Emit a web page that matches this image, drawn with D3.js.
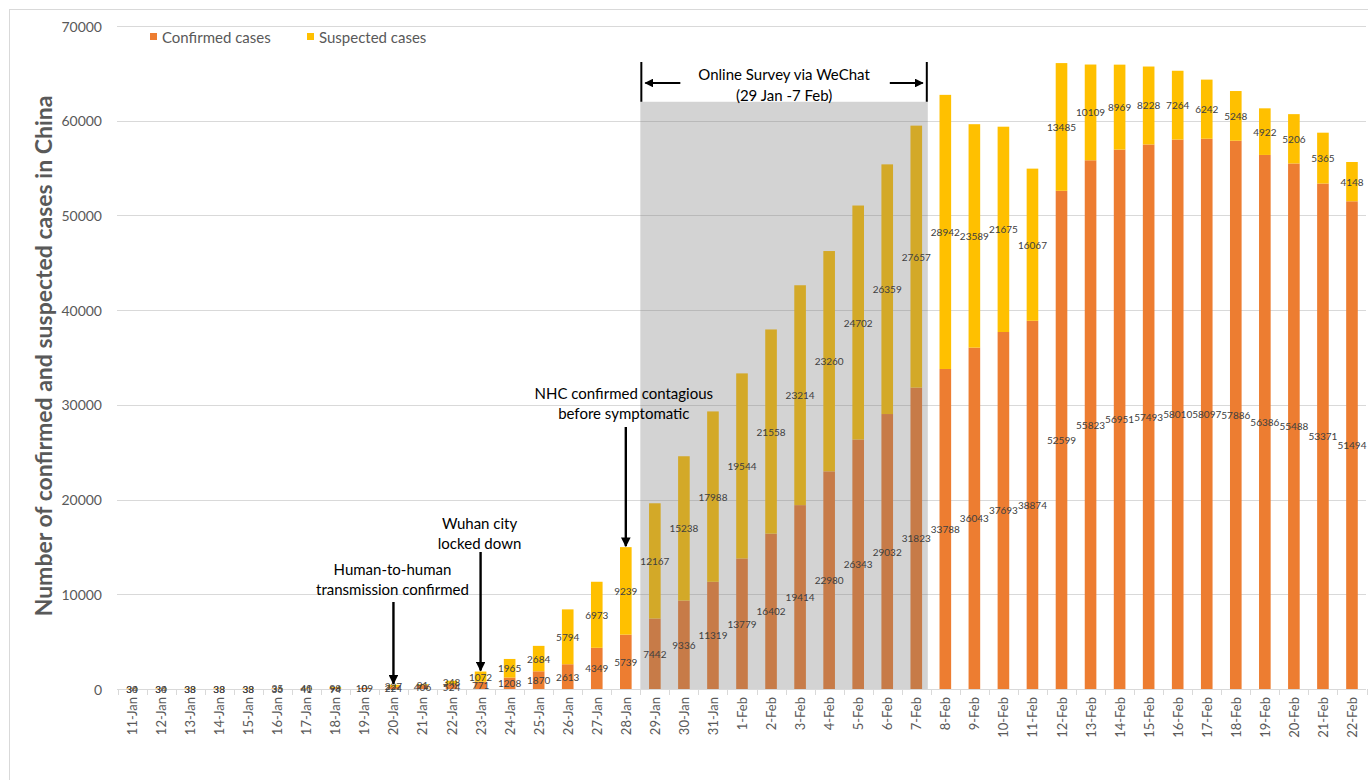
<!DOCTYPE html>
<html>
<head>
<meta charset="utf-8">
<script src="https://cdn.jsdelivr.net/npm/d3@7"></script>
<style>
    body { margin: 0; background: #fff; }
    text { font-family: Lato, 'Open Sans', sans-serif; }
</style>
</head>
<body>
<svg id="chart" width="1368" height="780"></svg>
<script>
// daily counts
const dates = [
    '11-Jan', '12-Jan', '13-Jan', '14-Jan', '15-Jan', '16-Jan', '17-Jan', '18-Jan', '19-Jan', '20-Jan',
    '21-Jan', '22-Jan', '23-Jan', '24-Jan', '25-Jan', '26-Jan', '27-Jan', '28-Jan', '29-Jan', '30-Jan',
    '31-Jan', '1-Feb', '2-Feb', '3-Feb', '4-Feb', '5-Feb', '6-Feb', '7-Feb', '8-Feb', '9-Feb',
    '10-Feb', '11-Feb', '12-Feb', '13-Feb', '14-Feb', '15-Feb', '16-Feb', '17-Feb', '18-Feb', '19-Feb',
    '20-Feb', '21-Feb', '22-Feb'
]
const confirmed = [
    34, 34, 33, 33, 33, 36, 41, 94, 109, 224,
    406, 524, 771, 1208, 1870, 2613, 4349, 5739, 7442, 9336,
    11319, 13779, 16402, 19414, 22980, 26343, 29032, 31823, 33788, 36043,
    37693, 38874, 52599, 55823, 56951, 57493, 58010, 58097, 57886, 56386,
    55488, 53371, 51494
]
const suspected = [
    30, 30, 38, 38, 38, 35, 40, 98, 0, 227,
    91, 348, 1072, 1965, 2684, 5794, 6973, 9239, 12167, 15238,
    17988, 19544, 21558, 23214, 23260, 24702, 26359, 27657, 28942, 23589,
    21675, 16067, 13485, 10109, 8969, 8228, 7264, 6242, 5248, 4922,
    5206, 5365, 4148
]
const yTicks = [0, 10000, 20000, 30000, 40000, 50000, 60000, 70000]
const seriesNames = ['Confirmed cases', 'Suspected cases']
const surveyFrom = '29-Jan'
const surveyTo = '7-Feb'
const surveyTop = 62000
const surveyText = ['Online Survey via WeChat', '(29 Jan -7 Feb)']
const events = [
    { date: '20-Jan', lines: ['Human-to-human', 'transmission confirmed'] },
    { date: '23-Jan', lines: ['Wuhan city', 'locked down'] },
    { date: '28-Jan', lines: ['NHC confirmed contagious', 'before symptomatic'] }
]

const colors = { confirmed: '#ED7D31', suspected: '#FFC000' }
const textGrey = '#595959'
const svg = d3.select('#chart')

const x = d3.scaleBand().domain(dates).range([117.5, 1366.5]).paddingInner(0.6).paddingOuter(0.3)
const y = d3.scaleLinear().domain([0, 70000]).range([689, 26])

// chart frame (only top and left edges fall inside the window)
svg.append('rect')
    .attr('x', 9.5).attr('y', 9.5).attr('width', 1400).attr('height', 800)
    .attr('fill', 'none').attr('stroke', '#d9d9d9')

// gridlines + y labels
svg.append('g').selectAll('line')
    .data(yTicks.filter(t => t > 0))
    .join('line')
    .attr('x1', 117).attr('x2', 1366)
    .attr('y1', d => Math.round(y(d)) + 0.5).attr('y2', d => Math.round(y(d)) + 0.5)
    .attr('stroke', '#d9d9d9')

svg.append('g').selectAll('text')
    .data(yTicks)
    .join('text')
    .attr('x', 102).attr('y', d => y(d))
    .attr('text-anchor', 'end').attr('dominant-baseline', 'central')
    .attr('font-size', 14).attr('fill', textGrey)
    .text(d => d)

// stacked bars
const rows = dates.map((d, i) => ({ date: d, c: confirmed[i], s: suspected[i] }))

const barG = svg.append('g')
barG.selectAll('rect.conf')
    .data(rows)
    .join('rect')
    .attr('class', 'conf')
    .attr('x', d => x(d.date)).attr('width', x.bandwidth())
    .attr('y', d => y(d.c)).attr('height', d => y(0) - y(d.c))
    .attr('fill', colors.confirmed)

barG.selectAll('rect.susp')
    .data(rows)
    .join('rect')
    .attr('class', 'susp')
    .attr('x', d => x(d.date)).attr('width', x.bandwidth())
    .attr('y', d => y(d.c + d.s)).attr('height', d => y(d.c) - y(d.c + d.s))
    .attr('fill', colors.suspected)

// x axis line and ticks at category boundaries
svg.append('line')
    .attr('x1', 117).attr('x2', 1366).attr('y1', 689.5).attr('y2', 689.5)
    .attr('stroke', '#d9d9d9')

const bounds = dates.map(d => x(d) + x.bandwidth() / 2 - x.step() / 2)
bounds.push(bounds[bounds.length - 1] + x.step())
svg.append('g').selectAll('line')
    .data(bounds)
    .join('line')
    .attr('x1', d => Math.round(d) + 0.5).attr('x2', d => Math.round(d) + 0.5)
    .attr('y1', 689).attr('y2', 695)
    .attr('stroke', '#d9d9d9')

svg.append('g').selectAll('text')
    .data(dates)
    .join('text')
    .attr('transform', d => `translate(${x(d) + x.bandwidth() / 2}, 697) rotate(-90)`)
    .attr('text-anchor', 'end').attr('dominant-baseline', 'central')
    .attr('font-size', 13).attr('fill', textGrey)
    .text(d => d)

// survey window shading
const sx0 = x(surveyFrom) + x.bandwidth() / 2 - x.step() / 2
const sx1 = x(surveyTo) + x.bandwidth() / 2 + x.step() / 2 - 3
svg.append('rect')
    .attr('x', sx0).attr('width', sx1 - sx0)
    .attr('y', y(surveyTop)).attr('height', y(0) - y(surveyTop))
    .attr('fill', 'rgb(121,121,121)').attr('fill-opacity', 0.33)

// data labels
const labelG = svg.append('g')
    .attr('font-size', 10).attr('fill', '#404040').attr('text-anchor', 'middle')
    .attr('dominant-baseline', 'central')
labelG.selectAll('text.cl')
    .data(rows)
    .join('text')
    .attr('class', 'cl')
    .attr('x', d => x(d.date) + x.bandwidth() / 2)
    .attr('y', d => y(d.c / 2))
    .text(d => d.c)
labelG.selectAll('text.sl')
    .data(rows)
    .join('text')
    .attr('class', 'sl')
    .attr('x', d => x(d.date) + x.bandwidth() / 2)
    .attr('y', d => y(d.c + d.s / 2))
    .text(d => d.s)

// arrow marker
const defs = svg.append('defs')
defs.append('marker')
    .attr('id', 'arrow')
    .attr('viewBox', '0 0 10 10')
    .attr('refX', 9).attr('refY', 5)
    .attr('markerWidth', 4).attr('markerHeight', 4)
    .attr('orient', 'auto-start-reverse')
    .append('path').attr('d', 'M0,0 L10,5 L0,10 z').attr('fill', '#000')

// survey bracket
const bracketTop = 62
const bracketBottom = y(surveyTop)
;[sx0 + 1, sx1 - 1].forEach(bx => {
    svg.append('line')
        .attr('x1', bx).attr('x2', bx).attr('y1', bracketTop).attr('y2', bracketBottom)
        .attr('stroke', '#000').attr('stroke-width', 2)
})
svg.append('line')
    .attr('x1', sx0 + 40).attr('x2', sx0 + 5).attr('y1', 83).attr('y2', 83)
    .attr('stroke', '#000').attr('stroke-width', 2.2).attr('marker-end', 'url(#arrow)')
svg.append('line')
    .attr('x1', sx1 - 38).attr('x2', sx1 - 5).attr('y1', 83).attr('y2', 83)
    .attr('stroke', '#000').attr('stroke-width', 2.2).attr('marker-end', 'url(#arrow)')
svg.append('g').selectAll('text')
    .data(surveyText)
    .join('text')
    .attr('x', (sx0 + sx1) / 2).attr('y', (d, i) => 74 + i * 21)
    .attr('text-anchor', 'middle').attr('dominant-baseline', 'central')
    .attr('font-size', 15).attr('fill', '#000')
    .text(d => d)

// event annotations
const eventTextY = [569, 523, 393]
const eventArrowTop = [602, 552, 427]
events.forEach((ev, i) => {
    const cx = x(ev.date) + x.bandwidth() / 2
    const idx = dates.indexOf(ev.date)
    const tip = y(confirmed[idx] + suspected[idx]) - 1
    const textX = ev.date === '28-Jan' ? cx - 2 : cx - 1
    svg.append('g').selectAll('text')
        .data(ev.lines)
        .join('text')
        .attr('x', textX).attr('y', (d, j) => eventTextY[i] + j * 20)
        .attr('text-anchor', 'middle').attr('dominant-baseline', 'central')
        .attr('font-size', 15).attr('fill', '#000')
        .text(d => d)
    svg.append('line')
        .attr('x1', cx).attr('x2', cx).attr('y1', eventArrowTop[i]).attr('y2', tip)
        .attr('stroke', '#000').attr('stroke-width', 2.4).attr('marker-end', 'url(#arrow)')
})

// legend
const legend = svg.append('g')
seriesNames.forEach((name, i) => {
    const lx = [150, 307][i]
    legend.append('rect')
        .attr('x', lx).attr('y', 33).attr('width', 7).attr('height', 7)
        .attr('fill', i === 0 ? colors.confirmed : colors.suspected)
    legend.append('text')
        .attr('x', lx + 12).attr('y', 37)
        .attr('dominant-baseline', 'central')
        .attr('font-size', 15).attr('fill', textGrey)
        .text(name)
})

// y title
svg.append('text')
    .attr('transform', 'translate(43, 356) rotate(-90)')
    .attr('text-anchor', 'middle').attr('dominant-baseline', 'central')
    .attr('font-size', 23).attr('font-weight', 'bold').attr('fill', textGrey)
    .text('Number of confirmed and suspected cases in China')
</script>
</body>
</html>
